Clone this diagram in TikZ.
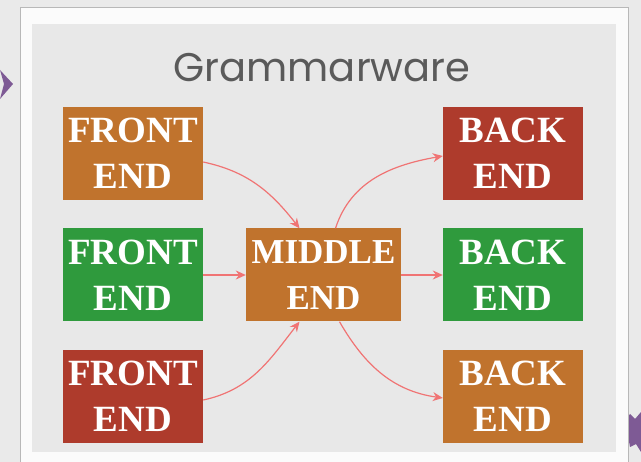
\documentclass[tikz,border=0pt]{standalone}
\usepackage{fontspec}
\setmainfont{Liberation Serif}
\newfontfamily\titlefont{Poppins}
\usetikzlibrary{arrows.meta}
\definecolor{pageBg}{HTML}{EAEAEA}
\definecolor{panelBg}{HTML}{E8E8E8}
\definecolor{boxOrange}{HTML}{C0732D}
\definecolor{boxGreen}{HTML}{2F9A3D}
\definecolor{boxRed}{HTML}{AE3B2C}
\definecolor{flowLine}{HTML}{F07474}
\definecolor{titleGray}{HTML}{5A5A5A}
\definecolor{decoPurple}{HTML}{7E5A95}
\tikzset{
  stage/.style={minimum width=140pt, minimum height=93pt, inner sep=0pt,
    text=white, align=center, font=\fontsize{37}{46}\selectfont\bfseries},
  flow/.style={draw=flowLine, line width=1.2pt, -{Stealth[length=10pt,width=9pt]}},
}
\begin{document}
\begin{tikzpicture}[x=1pt, y=-1pt]
  \useasboundingbox (0,0) rectangle (641,462);
  % page background
  \fill[pageBg] (0,0) rectangle (641,462);
  % decorative slide marks
  \fill[decoPurple] (0,70) -- (13,84) -- (0,99) -- (4,84) -- cycle;
  \fill[decoPurple] (624,422) -- (630,414) -- (635,419) -- (641,412) -- (641,452)
    -- (636,444) -- (630,447) -- (628,436) -- (622,430) -- cycle;
  % frame and panel
  \draw[black!28, line width=1pt, fill=white!97!gray] (20,8) rectangle (628,475);
  \draw[white!82!gray, fill=panelBg] (32,24) rectangle (615,451);
  % title
  \node[text=titleGray, font=\titlefont\fontsize{40}{44}\selectfont] (title) at (322,68) {Grammarware};
  % stages
  \node[stage, fill=boxOrange] (fe1) at (133,153.5) {FRONT\\END};
  \node[stage, fill=boxGreen]  (fe2) at (133,275)   {FRONT\\END};
  \node[stage, fill=boxRed]    (fe3) at (133,396.5) {FRONT\\END};
  \node[stage, fill=boxOrange, minimum width=155pt, font=\fontsize{35}{46}\selectfont\bfseries] (mid) at (323.5,275) {MIDDLE\\END};
  \node[stage, fill=boxRed]    (be1) at (513,153.5) {BACK\\END};
  \node[stage, fill=boxGreen]  (be2) at (513,275)   {BACK\\END};
  \node[stage, fill=boxOrange] (be3) at (513,396.5) {BACK\\END};
  % connectors
  \draw[flow] (fe1.east |- 0,162) to[out=-12, in=128] ([xshift=-24pt]mid.north);
  \draw[flow] (fe2.east) -- (mid.west);
  \draw[flow] (fe3.east |- 0,400) to[out=12, in=-128] ([xshift=-24pt]mid.south);
  \draw[flow] ([xshift=12pt]mid.north) to[out=72, in=190] (be1.west |- 0,156);
  \draw[flow] (mid.east) -- (be2.west);
  \draw[flow] ([xshift=16pt]mid.south) to[out=-60, in=172] (be3.west |- 0,398);
\end{tikzpicture}
\end{document}
